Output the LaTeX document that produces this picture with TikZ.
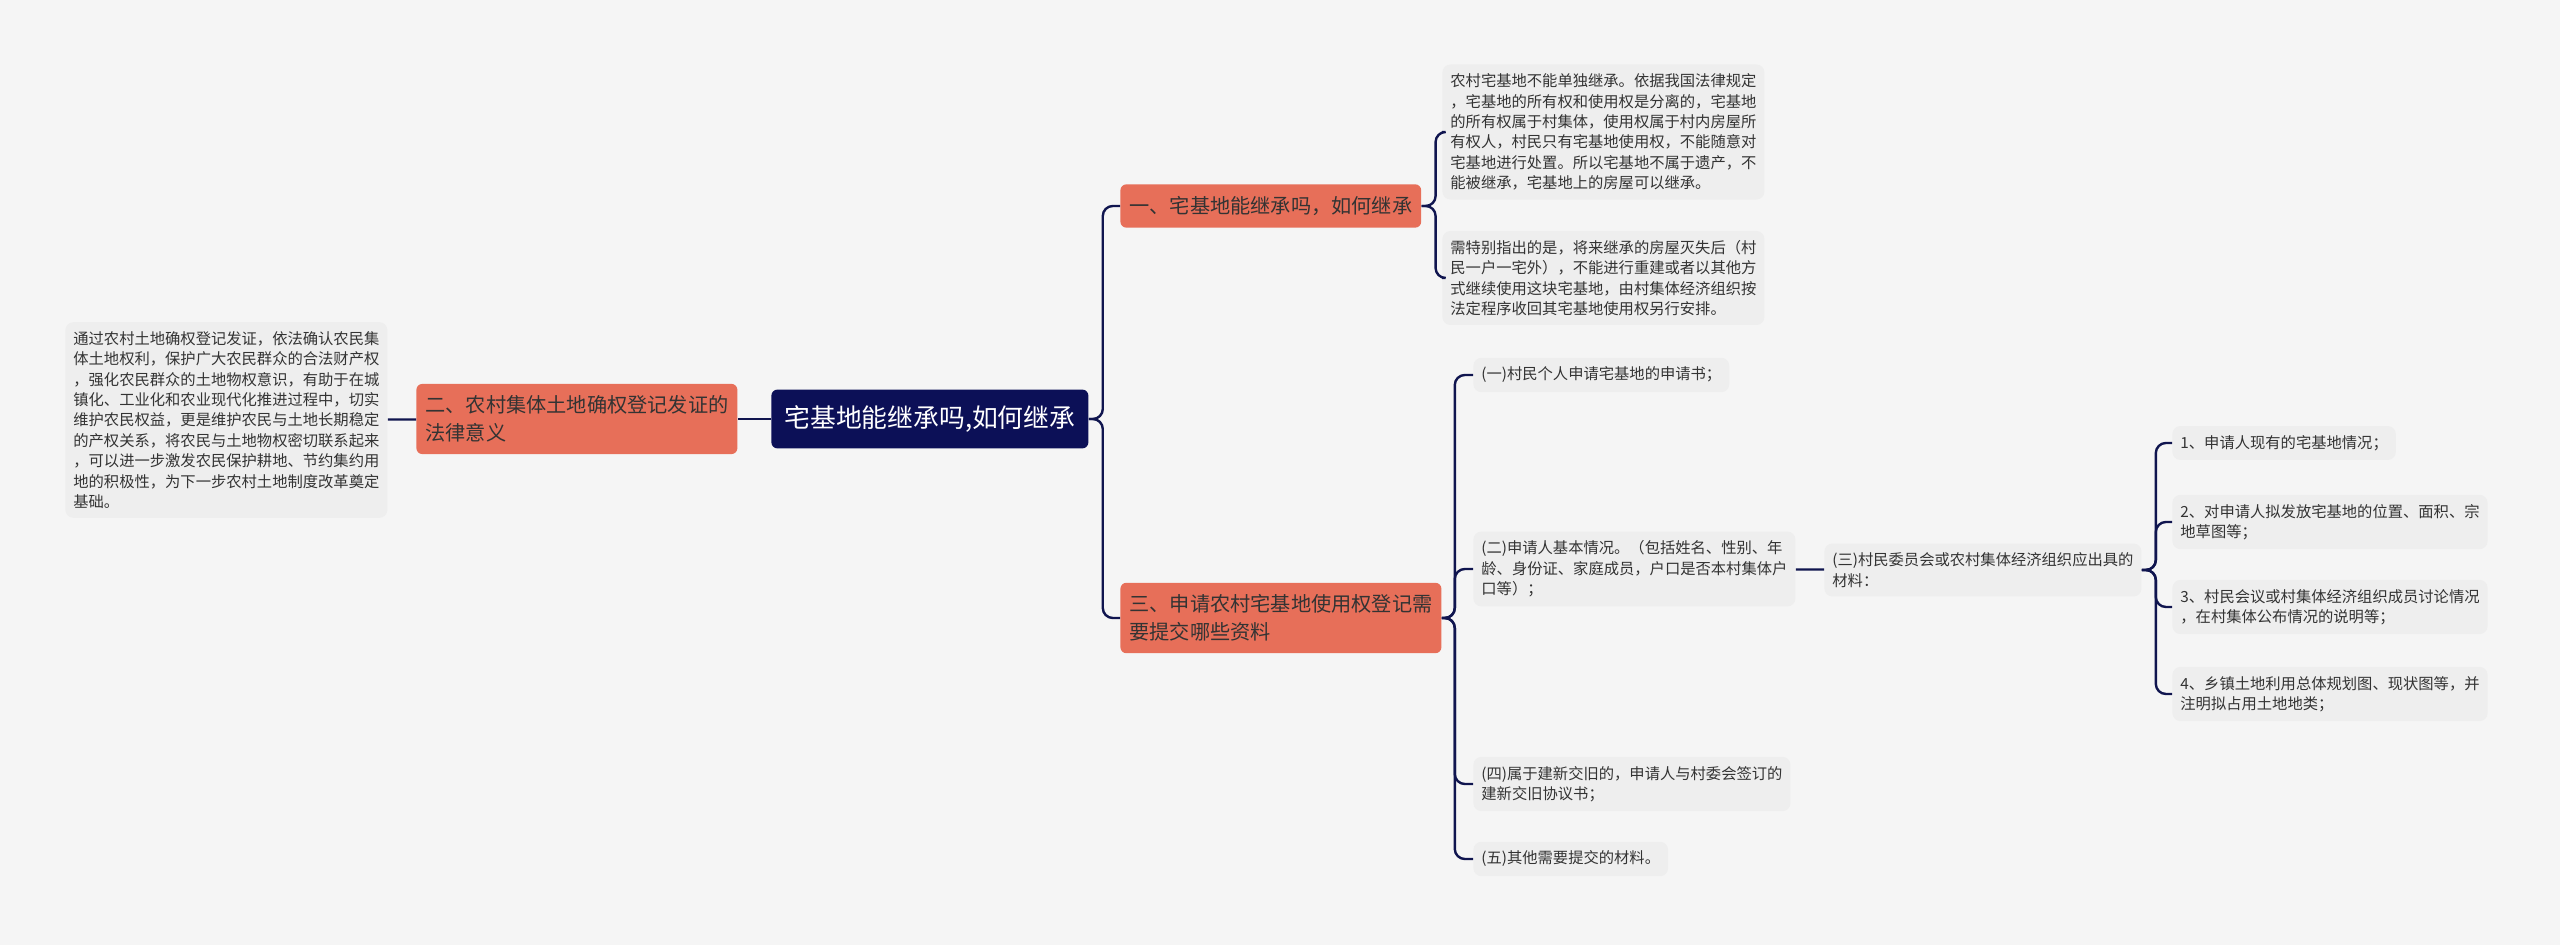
\documentclass[tikz,border=0pt]{standalone}
\usepackage{fontspec}
\setmainfont{Noto Sans CJK SC}
\usepackage{xcolor}
\usetikzlibrary{arrows.meta}
\definecolor{navy}{HTML}{0C1057}
\definecolor{wire}{HTML}{10154F}
\definecolor{salmon}{HTML}{E76F59}
\definecolor{paper}{HTML}{F5F5F5}
\definecolor{card}{HTML}{EEEEEE}
\definecolor{ink}{HTML}{333333}

\begin{document}
\begin{tikzpicture}[x=0.5pt,y=-0.5pt,root/.style={fill=navy,rounded corners=3pt,text=white,font=\fontsize{12.9}{15}\selectfont,inner xsep=6.5pt,inner ysep=8pt,anchor=west},topic/.style={fill=salmon,rounded corners=3pt,text=ink,align=left,font=\fontsize{10.1}{13.8}\selectfont,inner xsep=4.5pt,inner ysep=6pt,anchor=west},leaf/.style={fill=card,rounded corners=4pt,text=ink,align=left,font=\fontsize{7.65}{10.2}\selectfont,inner xsep=4pt,inner ysep=4.6pt,anchor=west},link/.style={draw=wire,line width=1.2pt,rounded corners=5pt}]
\fill[paper] (0,0) rectangle (2560,945);
\useasboundingbox (0,0) rectangle (2560,945);
\node[root] (main) at (771,419) {宅基地能继承吗,如何继承};
\node[topic] (legal) at (416,419) {二、农村集体土地确权登记发证的\\法律意义};
\node[leaf] (legaltxt) at (65,420) {通过农村土地确权登记发证，依法确认农民集\\体土地权利，保护广大农民群众的合法财产权\\，强化农民群众的土地物权意识，有助于在城\\镇化、工业化和农业现代化推进过程中，切实\\维护农民权益，更是维护农民与土地长期稳定\\的产权关系，将农民与土地物权密切联系起来\\，可以进一步激发农民保护耕地、节约集约用\\地的积极性，为下一步农村土地制度改革奠定\\基础。};
\node[topic] (inherit) at (1120,206) {一、宅基地能继承吗，如何继承};
\node[leaf] (inhA) at (1442,132) {农村宅基地不能单独继承。依据我国法律规定\\，宅基地的所有权和使用权是分离的，宅基地\\的所有权属于村集体，使用权属于村内房屋所\\有权人，村民只有宅基地使用权，不能随意对\\宅基地进行处置。所以宅基地不属于遗产，不\\能被继承，宅基地上的房屋可以继承。};
\node[leaf] (inhB) at (1442,278) {需特别指出的是，将来继承的房屋灭失后（村\\民一户一宅外），不能进行重建或者以其他方\\式继续使用这块宅基地，由村集体经济组织按\\法定程序收回其宅基地使用权另行安排。};
\node[topic] (apply) at (1120,618) {三、申请农村宅基地使用权登记需\\要提交哪些资料};
\node[leaf] (doc1) at (1473,375) {(一)村民个人申请宅基地的申请书；};
\node[leaf] (doc2) at (1473,569) {(二)申请人基本情况。（包括姓名、性别、年\\龄、身份证、家庭成员，户口是否本村集体户\\口等）；};
\node[leaf] (doc3) at (1824,570) {(三)村民委员会或农村集体经济组织应出具的\\材料：};
\node[leaf] (item1) at (2172,443) {1、申请人现有的宅基地情况；};
\node[leaf] (item2) at (2172,522) {2、对申请人拟发放宅基地的位置、面积、宗\\地草图等；};
\node[leaf] (item3) at (2172,607) {3、村民会议或村集体经济组织成员讨论情况\\，在村集体公布情况的说明等；};
\node[leaf] (item4) at (2172,694) {4、乡镇土地利用总体规划图、现状图等，并\\注明拟占用土地地类；};
\node[leaf] (doc4) at (1473,784) {(四)属于建新交旧的，申请人与村委会签订的\\建新交旧协议书；};
\node[leaf] (doc5) at (1473,859) {(五)其他需要提交的材料。};
\draw[link] (main) -- (legal);
\draw[link] (legal) -- (legaltxt);
\draw[link] (main.east) -- ++(7pt,0) |- (inherit.west);
\draw[link] (main.east) -- ++(7pt,0) |- (apply.west);
\draw[link] (inherit.east) -- ++(7pt,0) |- (inhA.west);
\draw[link] (inherit.east) -- ++(7pt,0) |- (inhB.west);
\draw[link] (apply.east) -- ++(6.5pt,0) |- (doc1.west);
\draw[link] (apply.east) -- ++(6.5pt,0) |- (doc2.west);
\draw[link] (apply.east) -- ++(6.5pt,0) |- (doc4.west);
\draw[link] (apply.east) -- ++(6.5pt,0) |- (doc5.west);
\draw[link] (doc2) -- (doc3);
\draw[link] (doc3.east) -- ++(7pt,0) |- (item1.west);
\draw[link] (doc3.east) -- ++(7pt,0) |- (item2.west);
\draw[link] (doc3.east) -- ++(7pt,0) |- (item3.west);
\draw[link] (doc3.east) -- ++(7pt,0) |- (item4.west);
\end{tikzpicture}
\end{document}
